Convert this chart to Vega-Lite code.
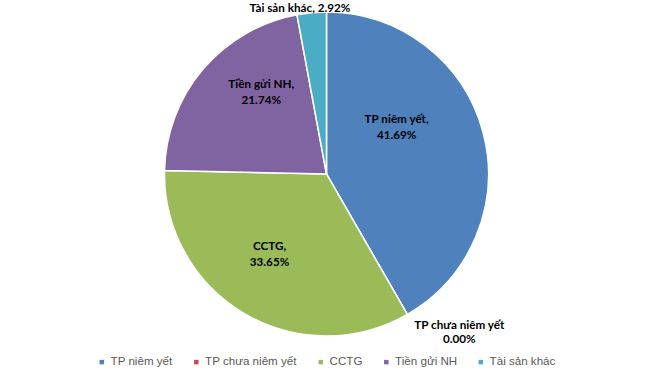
{
  "$schema": "https://vega.github.io/schema/vega-lite/v6.json",
  "width": 653,
  "height": 348,
  "padding": 0,
  "background": "white",
  "config": {"view": {"stroke": null}},
  "data": {"values": [
    {"idx": 1, "cat": "TP niêm yết", "value": 41.69, "label": "TP niêm yết,\n41.69%"},
    {"idx": 2, "cat": "TP chưa niêm yết", "value": 0.0, "label": "TP chưa niêm yết\n0.00%"},
    {"idx": 3, "cat": "CCTG", "value": 33.65, "label": "CCTG,\n33.65%"},
    {"idx": 4, "cat": "Tiền gửi NH", "value": 21.74, "label": "Tiền gửi NH,\n21.74%"},
    {"idx": 5, "cat": "Tài sản khác", "value": 2.92, "label": "Tài sản khác, 2.92%"}
  ]},
  "encoding": {
    "theta": {"field": "value", "type": "quantitative", "stack": true},
    "order": {"field": "idx", "type": "quantitative"}
  },
  "layer": [
    {
      "mark": {"type": "arc", "outerRadius": 162, "stroke": "white", "strokeWidth": 1.5},
      "encoding": {
        "color": {
          "field": "cat", "type": "nominal",
          "scale": {"domain": ["TP niêm yết", "TP chưa niêm yết", "CCTG", "Tiền gửi NH", "Tài sản khác"],
                    "range": ["#4F81BD", "#C0504D", "#9BBB59", "#8064A2", "#4BACC6"]},
          "sort": ["TP niêm yết", "TP chưa niêm yết", "CCTG", "Tiền gửi NH", "Tài sản khác"],
          "legend": {
            "orient": "none", "legendX": 96, "legendY": 356, "direction": "horizontal", "title": null,
            "symbolType": "square", "symbolSize": 20, "symbolStrokeWidth": 0,
            "labelFont": "Liberation Sans", "labelFontSize": 11.6, "labelColor": "#595959",
            "labelOffset": 3, "columnPadding": 17.5
          }
        }
      }
    },
    {
      "mark": {"type": "text", "radius": 85, "dx": -12, "dy": -33, "font": "Lato", "fontWeight": "bold", "fontSize": 11.7, "lineBreak": "\n", "lineHeight": 16, "color": "black"},
      "encoding": {"text": {"condition": {"test": "datum.idx === 1", "field": "label"}, "value": ""}}
    },
    {
      "mark": {"type": "text", "radius": 170, "dx": 48, "dy": 4, "font": "Lato", "fontWeight": "bold", "fontSize": 11.7, "lineBreak": "\n", "lineHeight": 14, "color": "black"},
      "encoding": {"text": {"condition": {"test": "datum.idx === 2", "field": "label"}, "value": ""}}
    },
    {
      "mark": {"type": "text", "radius": 100, "dx": -6, "dy": -14, "font": "Lato", "fontWeight": "bold", "fontSize": 11.7, "lineBreak": "\n", "lineHeight": 16, "color": "black"},
      "encoding": {"text": {"condition": {"test": "datum.idx === 3", "field": "label"}, "value": ""}}
    },
    {
      "mark": {"type": "text", "radius": 100, "dx": 11, "dy": -25, "font": "Lato", "fontWeight": "bold", "fontSize": 11.7, "lineBreak": "\n", "lineHeight": 16, "color": "black"},
      "encoding": {"text": {"condition": {"test": "datum.idx === 4", "field": "label"}, "value": ""}}
    },
    {
      "mark": {"type": "text", "radius": 170, "dx": -11, "dy": 3, "font": "Lato", "fontWeight": "bold", "fontSize": 11.7, "color": "black"},
      "encoding": {"text": {"condition": {"test": "datum.idx === 5", "field": "label"}, "value": ""}}
    }
  ]
}
